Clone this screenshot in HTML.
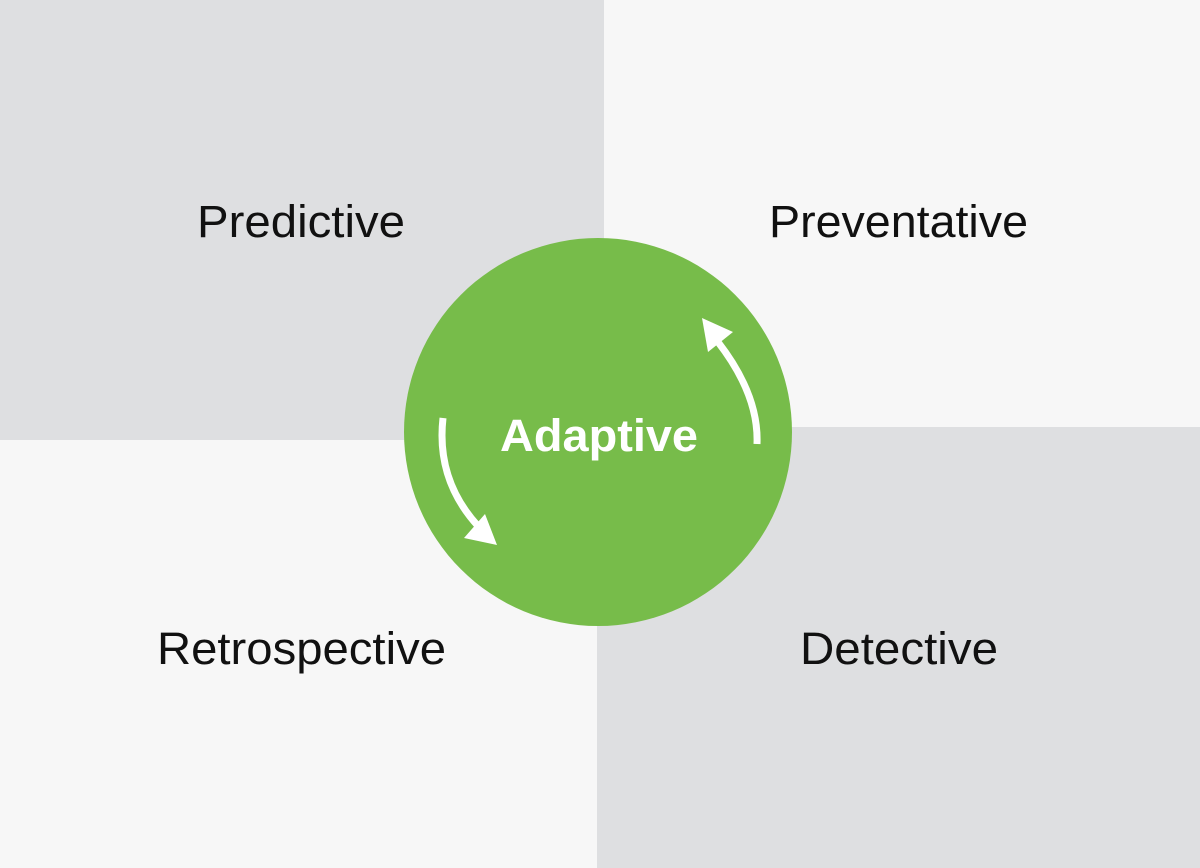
<!DOCTYPE html>
<html><head><style>
html,body{margin:0;padding:0;width:1200px;height:868px;overflow:hidden;background:#f7f7f7}
</style></head><body>
<svg width="1200" height="868" viewBox="0 0 1200 868" xmlns="http://www.w3.org/2000/svg">
<rect x="0" y="0" width="1200" height="868" fill="#f7f7f7"/>
<rect x="0" y="0" width="604" height="440" fill="#dedfe1"/>
<rect x="597" y="427" width="603" height="441" fill="#dedfe1"/>
<circle cx="598" cy="432" r="194" fill="#77bc4a"/>
<g font-family="Liberation Sans, sans-serif" font-size="45" fill="#111">
<text x="197" y="237" textLength="208" lengthAdjust="spacingAndGlyphs">Predictive</text>
<text x="769" y="237" textLength="259" lengthAdjust="spacingAndGlyphs">Preventative</text>
<text x="157" y="664" textLength="289" lengthAdjust="spacingAndGlyphs">Retrospective</text>
<text x="800" y="664" textLength="198" lengthAdjust="spacingAndGlyphs">Detective</text>
</g>
<text x="500" y="451" font-family="Liberation Sans, sans-serif" font-size="45" font-weight="bold" fill="#fff" textLength="198" lengthAdjust="spacingAndGlyphs">Adaptive</text>
<path d="M443 418 Q436 480 478 526" stroke="#fff" stroke-width="7" fill="none"/>
<polygon points="497,545 464,538 485,514" fill="#fff"/>
<path d="M757 444 Q759 395 718 342" stroke="#fff" stroke-width="7" fill="none"/>
<polygon points="702,318 708,352 733,332" fill="#fff"/>
</svg>
</body></html>
